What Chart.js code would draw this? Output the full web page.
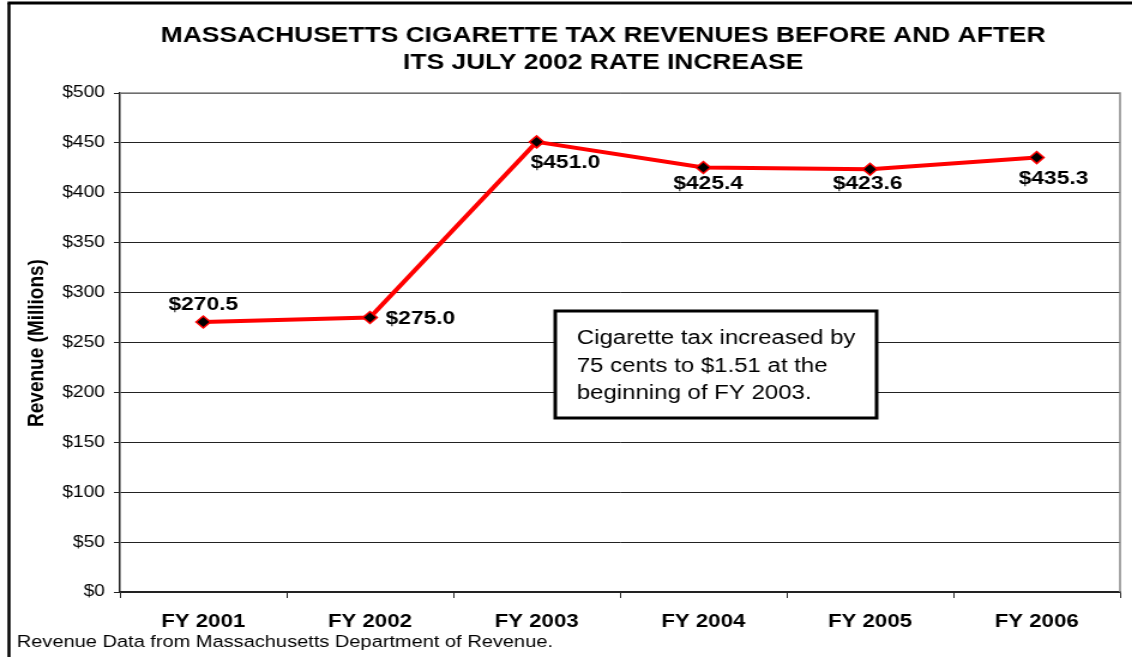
<!DOCTYPE html>
<html>
<head>
<meta charset="utf-8">
<script src="https://cdn.jsdelivr.net/npm/chart.js@4.4.1/dist/chart.umd.min.js"></script>
<style>
  html, body { margin: 0; padding: 0; background: #fff; overflow: hidden; }
  /* the source picture is stretched ~1.2x horizontally, so draw narrow and stretch */
  #wrap { width: 944px; height: 657px; transform: scaleX(1.1992); transform-origin: 0 0; }
</style>
</head>
<body>
<div id="wrap"><canvas id="c" width="944" height="657"></canvas></div>
<script>
const categories = ["FY 2001", "FY 2002", "FY 2003", "FY 2004", "FY 2005", "FY 2006"];
const revenue = [270.5, 275.0, 451.0, 425.4, 423.6, 435.3];
const valueLabels = ["$270.5", "$275.0", "$451.0", "$425.4", "$423.6", "$435.3"];
const titleLines = ["MASSACHUSETTS CIGARETTE TAX REVENUES BEFORE AND AFTER", "ITS JULY 2002 RATE INCREASE"];
const noteLines = ["Cigarette tax increased by", "75 cents to $1.51 at the", "beginning of FY 2003."];
const yTitle = "Revenue (Millions)";
const footer = "Revenue Data from Massachusetts Department of Revenue.";

const FONT = "Arial, 'Liberation Sans', sans-serif";

// label placement relative to each point (canvas px, before stretch)
const LABEL_POS = [
   { align: "center", dx: 0, dy: -17 },
   { align: "left", dx: 13, dy: 1 },
   { align: "center", dx: 24, dy: 21 },
   { align: "center", dx: 4, dy: 16 },
   { align: "center", dx: -2, dy: 15 },
   { align: "center", dx: 14, dy: 21 },
];

const decorPlugin = {
   id: "decor",
   afterDraw(chart) {
      const ctx = chart.ctx;
      ctx.save();

      // outer frame, only top + left visible
      ctx.strokeStyle = "#000";
      ctx.lineWidth = 2.5;
      ctx.beginPath();
      ctx.moveTo(7.5, 660);
      ctx.lineTo(7.5, 3);
      ctx.stroke();
      ctx.lineWidth = 3;
      ctx.beginPath();
      ctx.moveTo(6.3, 3);
      ctx.lineTo(950, 3);
      ctx.stroke();

      ctx.fillStyle = "#000";
      ctx.textAlign = "center";
      ctx.textBaseline = "middle";
      ctx.font = `bold 22px ${FONT}`;
      ctx.fillText(titleLines[0], 503, 36);
      ctx.fillText(titleLines[1], 503, 63);

      ctx.save();
      ctx.translate(31, 343);
      ctx.rotate(-Math.PI / 2);
      ctx.font = `bold 19px ${FONT}`;
      ctx.fillText(yTitle, 0, 0);
      ctx.restore();

      ctx.textAlign = "left";
      ctx.font = `16.7px ${FONT}`;
      ctx.fillText(footer, 14, 642);

      const meta = chart.getDatasetMeta(0);
      ctx.font = `bold 19px ${FONT}`;
      meta.data.forEach((pt, i) => {
         const p = LABEL_POS[i];
         ctx.textAlign = p.align;
         ctx.fillText(valueLabels[i], pt.x + p.dx, pt.y + p.dy);
      });

      // note box
      ctx.fillStyle = "#fff";
      ctx.fillRect(463, 311, 268, 107);
      ctx.strokeStyle = "#000";
      ctx.lineWidth = 3;
      ctx.strokeRect(463, 311, 268, 107);
      ctx.fillStyle = "#000";
      ctx.textAlign = "left";
      ctx.font = `20px ${FONT}`;
      noteLines.forEach((line, i) => ctx.fillText(line, 481, 338.5 + i * 27.5));

      ctx.restore();
   },
};

const plotBorder = {
   id: "plotBorder",
   beforeDatasetsDraw(chart) {
      const { ctx, chartArea: a } = chart;
      ctx.save();
      ctx.strokeStyle = "#888";
      ctx.lineWidth = 1.5;
      ctx.beginPath();
      ctx.moveTo(a.left, a.top);
      ctx.lineTo(a.right, a.top);
      ctx.lineTo(a.right, a.bottom);
      ctx.stroke();
      ctx.restore();
   },
};

new Chart(document.getElementById("c").getContext("2d"), {
   type: "line",
   data: {
      labels: categories,
      datasets: [{
         data: revenue,
         borderColor: "#ff0000",
         borderWidth: 4,
         pointStyle: "rectRot",
         pointRadius: 6,
         pointBackgroundColor: "#000",
         pointBorderColor: "#ff0000",
         pointBorderWidth: 1.5,
         tension: 0,
         fill: false,
      }],
   },
   options: {
      responsive: false,
      animation: false,
      devicePixelRatio: 1,
      layout: { padding: { top: 93, right: 10, left: 0, bottom: 0 } },
      plugins: { legend: { display: false }, tooltip: { enabled: false }, title: { display: false } },
      scales: {
         x: {
            type: "category",
            offset: true,
            grid: { offset: true, drawOnChartArea: false, drawTicks: true, tickLength: 6, color: "#222" },
            border: { color: "#222", width: 1.5 },
            ticks: { color: "#000", font: { family: FONT, size: 18.5, weight: "bold" }, padding: 13, maxRotation: 0 },
            afterFit(axis) { axis.height = 65; },
         },
         y: {
            min: 0,
            max: 500,
            grid: { color: "#222", lineWidth: 1, tickLength: 5 },
            border: { color: "#222", width: 1.5 },
            ticks: { stepSize: 50, color: "#000", font: { family: FONT, size: 16 }, padding: 7.5, callback: (v) => `$${v}` },
            afterFit(axis) { axis.width = 100; },
         },
      },
   },
   plugins: [decorPlugin, plotBorder],
});
</script>
</body>
</html>
